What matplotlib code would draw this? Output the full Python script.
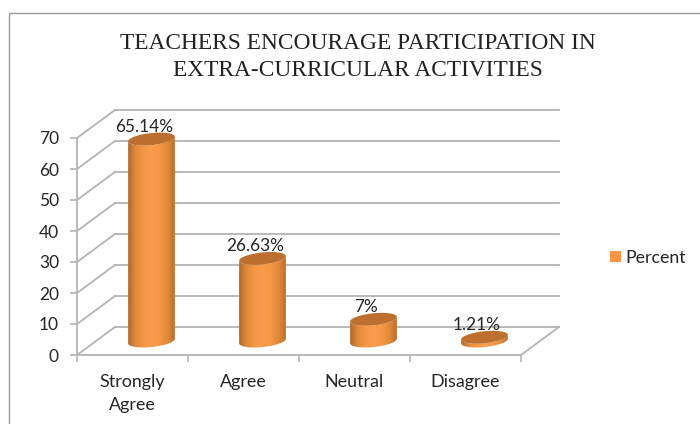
#recreate the 3D cylinder chart with a plain axes
import numpy as np
import matplotlib
matplotlib.use('Agg')
import matplotlib.pyplot as plt
from matplotlib.patches import Polygon, Patch, Rectangle
from matplotlib.colors import LinearSegmentedColormap

#data
categories = ['Strongly\nAgree', 'Agree', 'Neutral', 'Disagree']
values = [65.14, 26.63, 7, 1.21]
value_labels = ['65.14%', '26.63%', '7%', '1.21%']
yticks = [0, 10, 20, 30, 40, 50, 60, 70]
series_name = 'Percent'
title_lines = 'TEACHERS ENCOURAGE PARTICIPATION IN\nEXTRA-CURRICULAR ACTIVITIES'

W, H = 700, 424
grid_color = '#b4b4b4'
text_color = '#262626'
sans = ['Lato', 'DejaVu Sans']

fig = plt.figure(figsize=(W/100, H/100), dpi=100)
#chart border, only top and left fall inside the picture
fig.add_artist(Rectangle((8.5/W, -0.02), 1, 1.02-12.7/H, transform=fig.transFigure,
                         fill=False, edgecolor='#999999', linewidth=1))

#front frame of the plot in pixels: x 77-521, y 138-355
ax = fig.add_axes([77/W, 1-355/H, 444/W, 217/H])
ax.set_xlim(0, 4)
ax.set_ylim(0, 70)
ax.patch.set_alpha(0)
for s in ['top', 'right']:
    ax.spines[s].set_visible(False)
for s in ['left', 'bottom']:
    ax.spines[s].set_color(grid_color)
    ax.spines[s].set_linewidth(1.3)

#size of one data unit in pixels, and the depth of the 3D box
px_x = 444/4
px_y = 217/70
dx = 38/px_x
dy = 28/px_y

#back wall and side lines
for t in yticks:
    ax.plot([dx, 4+dx], [t+dy, t+dy], color=grid_color, lw=1.3, clip_on=False, zorder=1)
    ax.plot([0, dx], [t, t+dy], color=grid_color, lw=1.3, clip_on=False, zorder=1)
ax.plot([4, 4+dx], [0, dy], color=grid_color, lw=1.3, clip_on=False, zorder=1)

ax.set_yticks(yticks)
ax.set_xticks([0, 1, 2, 3, 4])
ax.set_xticklabels([])
ax.tick_params(axis='both', color=grid_color, width=1.2, length=5, labelsize=12.5, labelcolor=text_color)
ax.tick_params(axis='y', pad=8)
for lab in ax.get_yticklabels():
    lab.set_family(sans)

#category labels sit in the middle of each slot
for i, c in enumerate(categories):
    ax.text(i+0.5, -6.2, c, ha='center', va='top', fontsize=12.9, color=text_color,
            family=sans, linespacing=1.53, clip_on=False)

cmap = LinearSegmentedColormap.from_list('cyl', ['#a9652b', '#e08a3c', '#f59745', '#fa9c4c', '#f59745', '#de883a', '#ad672b'])
a = 23.5   #half width in pixels
b = 6.0    #half height of the ellipse in pixels
tilt = np.radians(6)


def ellipse(cx, cy, t):
    #tilted ellipse, given in data units
    ex = a*np.cos(t)*np.cos(tilt) - b*np.sin(t)*np.sin(tilt)
    ey = a*np.cos(t)*np.sin(tilt) + b*np.sin(t)*np.cos(tilt)
    return np.column_stack([cx + ex/px_x, cy + ey/px_y])


t_all = np.linspace(0, 2*np.pi, 80)
t_low = np.linspace(np.pi, 2*np.pi, 40)
for i, v in enumerate(values):
    cx = i + 0.5 + dx/2
    cy = dy/2
    bottom = ellipse(cx, cy, t_low)
    top = ellipse(cx, cy+v, t_low[::-1])
    body = Polygon(np.vstack([bottom, top]), closed=True, facecolor='none', edgecolor='none', zorder=3)
    ax.add_patch(body)
    grad = np.linspace(0, 1, 64).reshape(1, -1)
    im = ax.imshow(grad, cmap=cmap, extent=[cx-a/px_x-0.01, cx+a/px_x+0.01, cy-10, cy+v+10],
                   aspect='auto', zorder=3, clip_on=True)
    im.set_clip_path(body)
    ax.add_patch(Polygon(ellipse(cx, cy+v, t_all), closed=True, facecolor='#bc6f2e',
                         edgecolor='none', zorder=4, clip_on=False))
    ax.text(cx-0.07, v+dy/2+b/px_y-0.5, value_labels[i], ha='center', va='bottom', fontsize=12.4,
            color=text_color, family=sans, zorder=5, clip_on=False)
ax.set_xlim(0, 4)
ax.set_ylim(0, 70)

#title
fig.text(358/W, 1-57/H, title_lines, ha='center', va='center', fontsize=16.8,
         family='Liberation Serif', color='#222222', linespacing=1.42)

#legend
fig.legend(handles=[Patch(facecolor='#f79646', edgecolor='none', label=series_name)],
           loc='center left', bbox_to_anchor=(610/W, 1-258/H), frameon=False,
           borderpad=0, borderaxespad=0,
           handlelength=0.61, handleheight=0.61, handletextpad=0.28,
           prop={'family': sans, 'size': 12.8}, labelcolor=text_color)

fig.savefig('out.png', dpi=100)
